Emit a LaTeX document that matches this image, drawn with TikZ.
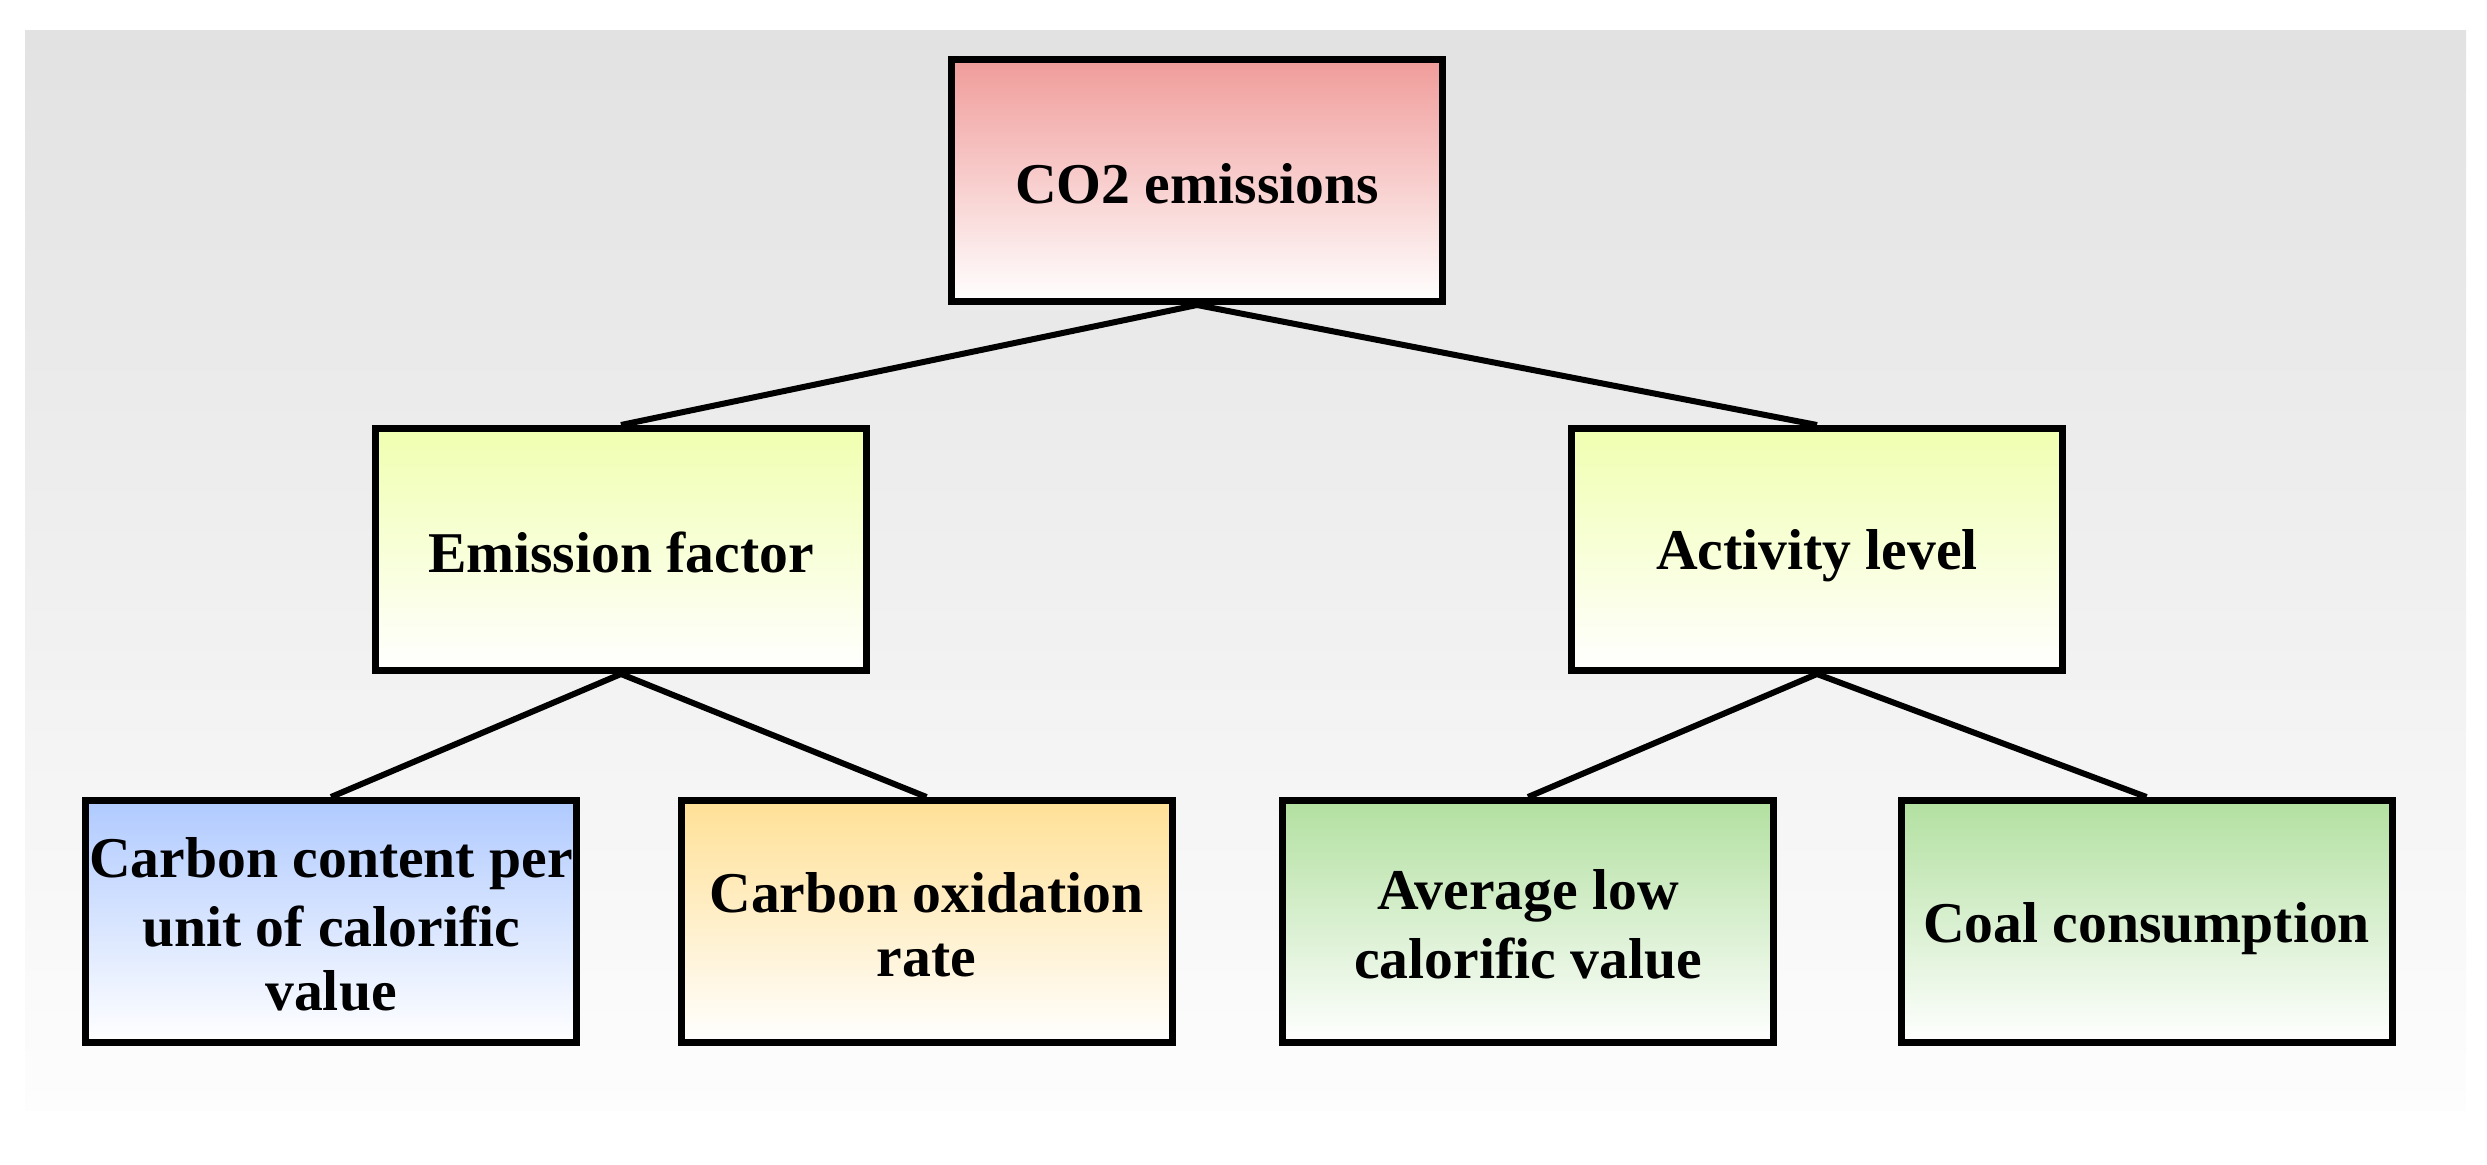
\documentclass[tikz,border=0pt]{standalone}
\usepackage{fontspec}
\setmainfont{Liberation Serif}
\definecolor{bgtop}{RGB}{226,226,226}
\definecolor{bgbot}{RGB}{253,253,253}
\definecolor{redtop}{RGB}{240,156,154}
\definecolor{yeltop}{RGB}{240,255,176}
\definecolor{bluetop}{RGB}{176,202,255}
\definecolor{orgtop}{RGB}{255,224,150}
\definecolor{grntop}{RGB}{178,224,160}
\newcommand{\boxstrut}{\rule[-2.5pt]{0pt}{18.5pt}}
\tikzset{
  box/.style={draw=black, line width=2.1pt, minimum width=147.3pt, minimum height=72.6pt,
    align=center, inner sep=0pt, bottom color=white,
    font=\fontsize{17.3}{19.2}\selectfont\bfseries},
  conn/.style={draw=black, line width=1.8pt}
}
\begin{document}
\begin{tikzpicture}[x=0.3pt,y=-0.3pt]
\useasboundingbox (0,0) rectangle (2487,1164);
\shade[top color=bgtop, bottom color=bgbot] (25,30) rectangle (2466,1110);
\node[box, top color=redtop] (co2) at (1197,180.5) {\boxstrut CO2 emissions};
\node[box, top color=yeltop] (ef) at (621,549.5) {\boxstrut Emission factor};
\node[box, top color=yeltop] (al) at (1817,549.5) {\boxstrut Activity level};
\node[box, top color=bluetop] (cc) at (331,921.5) {\boxstrut Carbon content per\\\boxstrut unit of calorific\\\boxstrut value};
\node[box, top color=orgtop] (co) at (926.5,921.5) {\boxstrut Carbon oxidation\\\boxstrut rate};
\node[box, top color=grntop] (av) at (1528,921.5) {\boxstrut Average low\\\boxstrut calorific value};
\node[box, top color=grntop] (cl) at (2146.5,921.5) {\boxstrut Coal consumption};
\draw[conn] (co2.south) -- (ef.north);
\draw[conn] (co2.south) -- (al.north);
\draw[conn] (ef.south) -- (cc.north);
\draw[conn] (ef.south) -- (co.north);
\draw[conn] (al.south) -- (av.north);
\draw[conn] (al.south) -- (cl.north);
\end{tikzpicture}
\end{document}
